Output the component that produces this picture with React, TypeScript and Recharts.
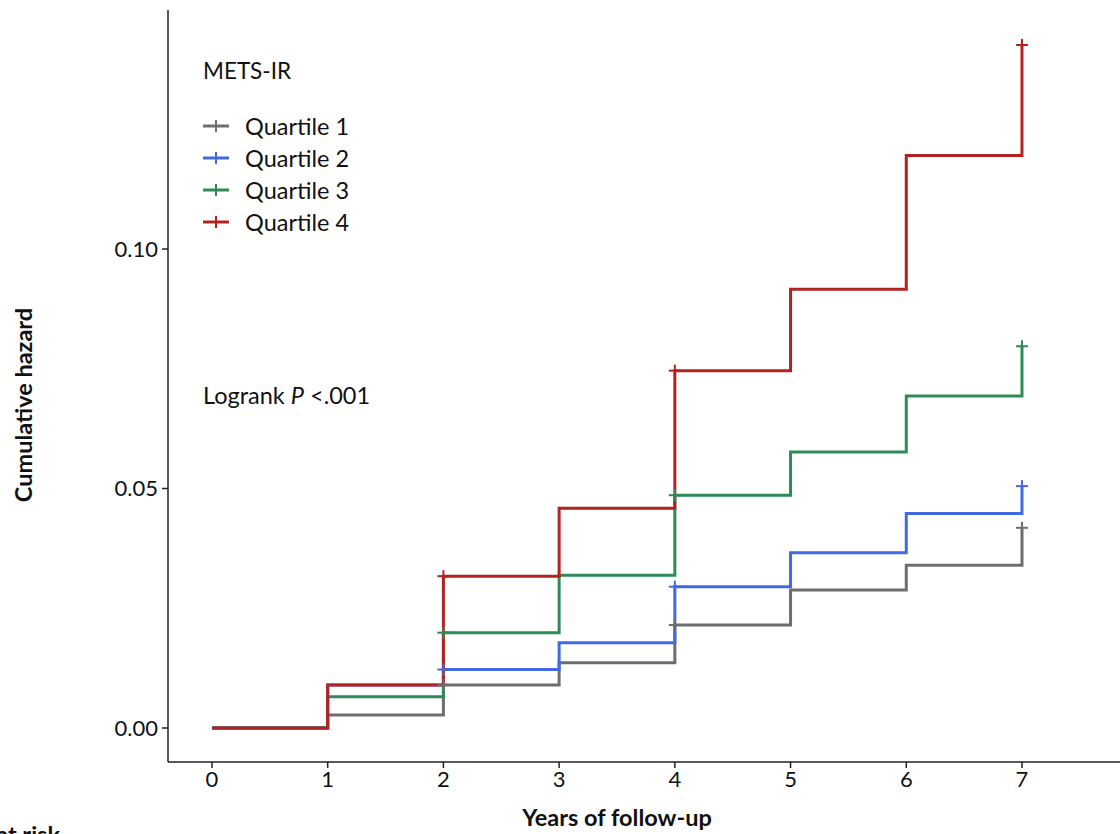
import { Line, LineChart, XAxis, YAxis } from "recharts";

const years = [0, 1, 2, 3, 4, 5, 6, 7];
const quartile1 = [0, 0.0027, 0.009, 0.0136, 0.0215, 0.0288, 0.034, 0.0418];
const quartile2 = [0, 0.009, 0.0122, 0.0178, 0.0295, 0.0366, 0.0448, 0.0505];
const quartile3 = [0, 0.0065, 0.0199, 0.0319, 0.0486, 0.0576, 0.0693, 0.0797];
const quartile4 = [0, 0.009, 0.0317, 0.0459, 0.0746, 0.0916, 0.1195, 0.1426];
const censorYears = [2, 4, 7];
const xTicks = [0, 1, 2, 3, 4, 5, 6, 7];
const yTicks = [0, 0.05, 0.1];

const series = [
  { key: "q1", name: "Quartile 1", color: "#6e6e6e", values: quartile1 },
  { key: "q2", name: "Quartile 2", color: "#4169e1", values: quartile2 },
  { key: "q3", name: "Quartile 3", color: "#2e8b57", values: quartile3 },
  { key: "q4", name: "Quartile 4", color: "#b22222", values: quartile4 },
];

const data = years.map((year, i) => {
  const row: Record<string, number> = { year };
  series.forEach((s) => (row[s.key] = s.values[i]));
  return row;
});

const FONT = "Lato, 'Open Sans', sans-serif";

function CensorMark(props: any) {
  const { cx, cy, payload, stroke, index } = props;
  if (!payload || !censorYears.includes(payload.year) || cx == null) {
    return <g key={`n-${index}`} />;
  }
  return (
    <g key={`c-${index}`} stroke={stroke} strokeWidth={2}>
      <line x1={cx - 6} x2={cx + 6} y1={cy} y2={cy} />
      <line x1={cx} x2={cx} y1={cy - 6} y2={cy + 6} />
    </g>
  );
}

export default function App() {
  return (
    <div style={{ position: "absolute", left: 0, top: 0, fontFamily: FONT }}>
      <LineChart
        width={1120}
        height={834}
        data={data}
        margin={{ top: 10, right: 0, left: 0, bottom: 0 }}
      >
        <XAxis
          dataKey="year"
          type="number"
          domain={[-0.38, 7.847]}
          allowDataOverflow
          ticks={xTicks}
          height={72}
          stroke="#222"
          strokeWidth={1.5}
          tick={{ fill: "#111", fontSize: 22, fontFamily: FONT }}
          tickMargin={3}
        />
        <YAxis
          type="number"
          domain={[-0.0071, 0.1499]}
          allowDataOverflow
          ticks={yTicks}
          width={168}
          stroke="#222"
          strokeWidth={1.5}
          tick={{ fill: "#111", fontSize: 22, fontFamily: FONT }}
          tickMargin={4}
          tickFormatter={(v) => Number(v).toFixed(2)}
        />
        {series.map((s) => (
          <Line
            key={s.key}
            dataKey={s.key}
            name={s.name}
            type="stepAfter"
            stroke={s.color}
            strokeWidth={3}
            dot={(p: any) => <CensorMark {...p} stroke={s.color} />}
            activeDot={false}
            isAnimationActive={false}
          />
        ))}
        <text
          x={617}
          y={826}
          textAnchor="middle"
          fontSize={23.5}
          fontWeight={700}
          fill="#111"
          fontFamily={FONT}
        >
          Years of follow-up
        </text>
        <text
          x={23}
          y={405}
          transform="rotate(-90 23 405)"
          textAnchor="middle"
          dominantBaseline="central"
          fontSize={23.5}
          fontWeight={700}
          fill="#111"
          fontFamily={FONT}
        >
          Cumulative hazard
        </text>
        <text
          x={60}
          y={843}
          textAnchor="end"
          fontSize={23.5}
          fontWeight={700}
          fill="#111"
          fontFamily={FONT}
        >
          Number at risk
        </text>
        <text
          x={203}
          y={70}
          dominantBaseline="central"
          fontSize={22.5}
          fill="#111"
          fontFamily={FONT}
        >
          METS-IR
        </text>
        {series.map((s, i) => {
          const y = 126 + i * 32;
          return (
            <g key={`leg-${s.key}`}>
              <line x1={203} x2={229} y1={y} y2={y} stroke={s.color} strokeWidth={3} />
              <line x1={216} x2={216} y1={y - 6} y2={y + 6} stroke={s.color} strokeWidth={2} />
              <text
                x={245}
                y={y}
                dominantBaseline="central"
                fontSize={23.5}
                fill="#111"
                fontFamily={FONT}
              >
                {s.name}
              </text>
            </g>
          );
        })}
        <text
          x={203}
          y={395}
          dominantBaseline="central"
          fontSize={23.5}
          fill="#111"
          fontFamily={FONT}
        >
          Logrank <tspan fontStyle="italic">P</tspan> {"<.001"}
        </text>
      </LineChart>
    </div>
  );
}
